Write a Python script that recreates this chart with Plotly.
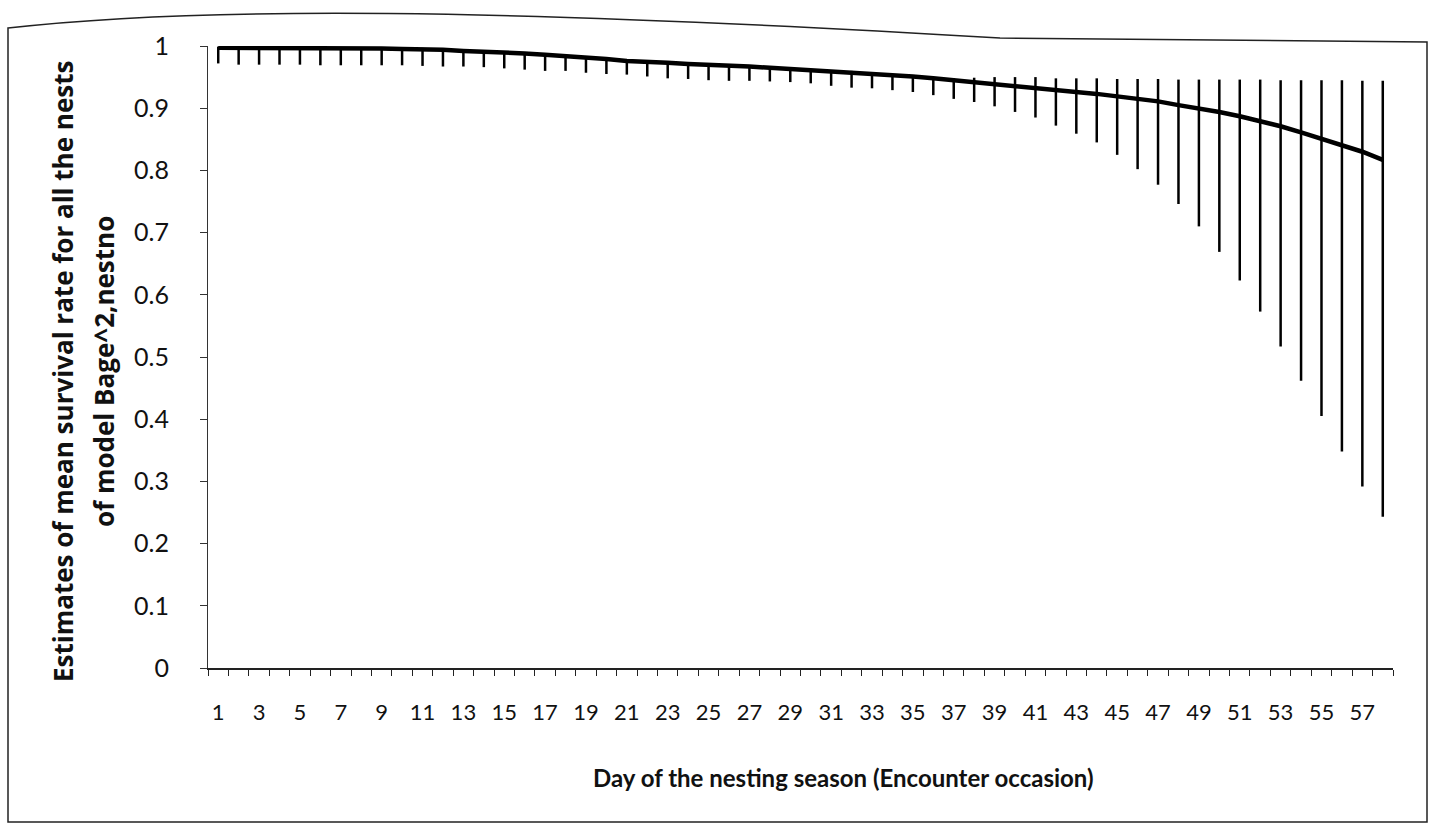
import plotly.graph_objects as go

days = list(range(1, 59))
mean_rate = [0.997, 0.997, 0.997, 0.997, 0.997, 0.996, 0.996, 0.996, 0.996, 0.995,
             0.995, 0.994, 0.992, 0.991, 0.990, 0.988, 0.986, 0.984, 0.981, 0.979,
             0.976, 0.975, 0.973, 0.971, 0.970, 0.968, 0.967, 0.965, 0.963, 0.961,
             0.959, 0.958, 0.955, 0.953, 0.951, 0.948, 0.945, 0.942, 0.939, 0.936,
             0.933, 0.930, 0.927, 0.923, 0.919, 0.915, 0.911, 0.905, 0.900, 0.894,
             0.887, 0.879, 0.871, 0.861, 0.851, 0.841, 0.830, 0.817]
lower_ci = [0.972, 0.970, 0.970, 0.970, 0.970, 0.969, 0.969, 0.969, 0.969, 0.969,
            0.968, 0.967, 0.967, 0.966, 0.964, 0.962, 0.960, 0.960, 0.957, 0.955,
            0.954, 0.951, 0.948, 0.947, 0.945, 0.944, 0.944, 0.943, 0.942, 0.940,
            0.936, 0.933, 0.932, 0.929, 0.926, 0.921, 0.915, 0.910, 0.903, 0.894,
            0.885, 0.872, 0.859, 0.845, 0.825, 0.802, 0.777, 0.746, 0.710, 0.669,
            0.623, 0.573, 0.517, 0.462, 0.405, 0.348, 0.292, 0.243]
upper_ci = [0.999, 0.999, 0.999, 0.999, 0.999, 0.998, 0.998, 0.998, 0.998, 0.997,
            0.997, 0.996, 0.994, 0.993, 0.992, 0.990, 0.988, 0.986, 0.983, 0.981,
            0.978, 0.977, 0.975, 0.973, 0.972, 0.970, 0.969, 0.967, 0.965, 0.963,
            0.961, 0.960, 0.957, 0.955, 0.953, 0.950, 0.948, 0.949, 0.950, 0.950,
            0.950, 0.948, 0.948, 0.948, 0.947, 0.947, 0.947, 0.946, 0.946, 0.946,
            0.946, 0.946, 0.945, 0.945, 0.945, 0.945, 0.944, 0.944]
x_tick_labels = [str(d) for d in range(1, 58, 2)]
y_tick_vals = [round(i * 0.1, 1) for i in range(11)]
y_tick_text = ["0", "0.1", "0.2", "0.3", "0.4", "0.5", "0.6", "0.7", "0.8", "0.9", "1"]
x_title = "Day of the nesting season (Encounter occasion)"
y_title_lines = ["Estimates of mean survival rate for all the nests", "of model Bage^2,nestno"]

W, H = 1439, 831
L, R, T, B = 208, 1393, 46, 668

err_plus = [u - m for u, m in zip(upper_ci, mean_rate)]
err_minus = [m - l for m, l in zip(mean_rate, lower_ci)]

fig = go.Figure()
fig.add_trace(go.Scatter(
    x=days, y=mean_rate, mode="lines",
    line=dict(color="black", width=4.5),
    error_y=dict(type="data", symmetric=False, array=err_plus, arrayminus=err_minus,
                 color="black", thickness=2.5, width=0),
    showlegend=False, hoverinfo="x+y",
))

def px(x):
    return (x - L) / (R - L)

def py(y):
    return (B - y) / (B - T)

border = (f"M {px(8)} {py(822)} L {px(8)} {py(28)} "
          f"C {px(200)} {py(6)}, {px(500)} {py(8)}, {px(1000)} {py(38)} "
          f"L {px(1427)} {py(42)} L {px(1427)} {py(822)} Z")
fig.add_shape(type="path", xref="paper", yref="paper", path=border,
              line=dict(color="#222", width=1.5), fillcolor="rgba(0,0,0,0)", layer="below")

fig.add_annotation(text=f"<b>{x_title}</b>", xref="paper", yref="paper",
                   x=px(843), y=py(777), xanchor="center", yanchor="middle", showarrow=False,
                   font=dict(size=24, family="Lato, sans-serif", color="#111"))
for txt, cx in zip(y_title_lines, [63, 104]):
    fig.add_annotation(text=f"<b>{txt}</b>", xref="paper", yref="paper",
                       x=px(cx), y=py(372), xanchor="center", yanchor="middle",
                       showarrow=False, textangle=-90,
                       font=dict(size=26, family="Open Sans, sans-serif", color="#111"))

fig.update_layout(
    width=W, height=H,
    margin=dict(l=L, r=W - R, t=T, b=H - B, autoexpand=False),
    paper_bgcolor="white", plot_bgcolor="white",
    font=dict(family="Lato, Open Sans, sans-serif", color="#111"),
    xaxis=dict(
        range=[0.5, 58.5], showgrid=False, zeroline=False,
        showline=True, linecolor="#222", linewidth=1.5,
        tickmode="array", tickvals=list(range(1, 58, 2)), ticktext=x_tick_labels,
        ticks="outside", ticklen=0, tickcolor="#222",
        minor=dict(tickmode="linear", tick0=0.5, dtick=1, ticks="outside", ticklen=6,
                   tickcolor="#222", tickwidth=1, showgrid=False),
        tickfont=dict(size=22, family="Lato, sans-serif", color="#111"),
        ticklabelstandoff=24,
    ),
    yaxis=dict(
        range=[0, 1], showgrid=False, zeroline=False,
        showline=True, linecolor="#333", linewidth=1.2,
        tickmode="array", tickvals=y_tick_vals, ticktext=y_tick_text,
        ticks="outside", ticklen=7, tickcolor="#333",
        tickfont=dict(size=25, family="Lato, sans-serif", color="#111"),
        ticklabelposition="outside",
        ticklabelstandoff=26,
    ),
)

fig.write_html("out.html")
